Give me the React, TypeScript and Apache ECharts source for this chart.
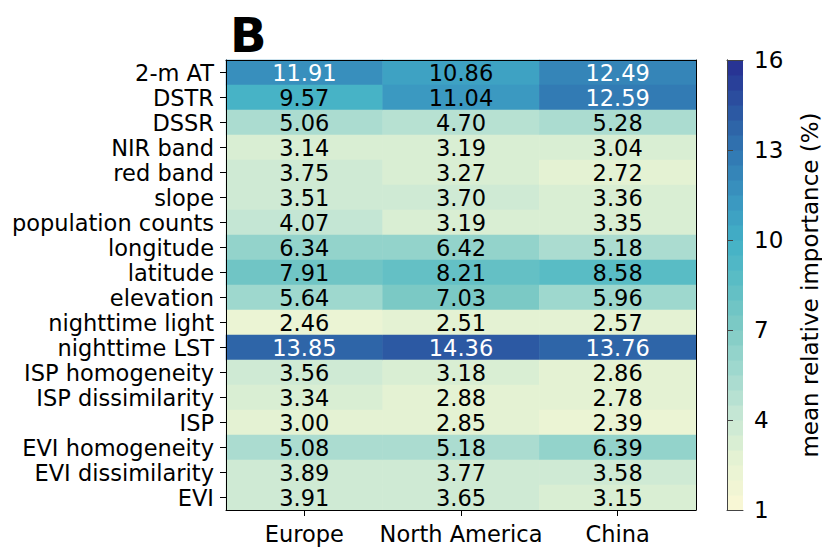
import React, { useEffect, useRef } from 'react';
import * as echarts from 'echarts';

const rowLabels = [
  '2-m AT', 'DSTR', 'DSSR', 'NIR band', 'red band', 'slope', 'population counts',
  'longitude', 'latitude', 'elevation', 'nighttime light', 'nighttime LST',
  'ISP homogeneity', 'ISP dissimilarity', 'ISP', 'EVI homogeneity', 'EVI dissimilarity', 'EVI',
];
const regions = ['Europe', 'North America', 'China'];
const europe = [11.91, 9.57, 5.06, 3.14, 3.75, 3.51, 4.07, 6.34, 7.91, 5.64, 2.46, 13.85, 3.56, 3.34, 3.0, 5.08, 3.89, 3.91];
const northAmerica = [10.86, 11.04, 4.7, 3.19, 3.27, 3.7, 3.19, 6.42, 8.21, 7.03, 2.51, 14.36, 3.18, 2.88, 2.85, 5.18, 3.77, 3.65];
const china = [12.49, 12.59, 5.28, 3.04, 2.72, 3.36, 3.35, 5.18, 8.58, 5.96, 2.57, 13.76, 2.86, 2.78, 2.39, 6.39, 3.58, 3.15];

const colorMin = 1;
const colorMax = 16;
const colorInterval = 3;
const colorLevels = 30;
const paletteStops = [
  '#f8f7d5', '#e5f2d3', '#c6e7d4', '#a2d9cf', '#80cbc5', '#5ebec5',
  '#43b1c6', '#3a96c0', '#3179b3', '#2c58a2', '#283494',
];
const whiteTextAbove = 11.5;
const colorbarTitle = 'mean relative importance (%)';
const panelLetter = 'B';

const FONT = '"DejaVu Sans", sans-serif';

export default function App() {
  const ref = useRef<HTMLDivElement>(null);

  useEffect(() => {
    const chart = echarts.init(ref.current!, null, { renderer: 'svg' });
    const columns = [europe, northAmerica, china];
    const heatData: any[] = [];
    columns.forEach((col, xi) =>
      col.forEach((v, yi) =>
        heatData.push({
          value: [xi, yi, v],
          label: { color: v > whiteTextAbove ? '#ffffff' : '#000000' },
        })
      )
    );
    const step = (colorMax - colorMin) / colorLevels;
    const barData = Array.from({ length: colorLevels }, (_, i) => {
      const lo = colorMin + i * step;
      return [0, lo, lo + step / 2, lo + step];
    });

    const heatGrid = { left: 226, top: 60, width: 470, height: 450 };
    const barGrid = { left: 727, top: 60, width: 30, height: 450 };

    const lineOnly = (color: string) => ({
      axisLine: { show: true, lineStyle: { color, width: 1 } },
      axisTick: { show: false },
      axisLabel: { show: false },
      splitLine: { show: false },
      z: 10,
    });

    chart.setOption({
      animation: false,
      backgroundColor: '#ffffff',
      textStyle: { fontFamily: FONT },
      grid: [
        { ...heatGrid, containLabel: false },
        { ...barGrid, containLabel: false },
      ],
      graphic: [
        {
          type: 'text',
          left: 230,
          top: 11,
          style: { text: panelLetter, font: `bold 48px ${FONT}`, fill: '#000' },
        },
      ],
      xAxis: [
        {
          type: 'category',
          gridIndex: 0,
          data: regions,
          position: 'bottom',
          axisLine: { show: true, lineStyle: { color: '#000', width: 1 } },
          axisTick: { show: true, alignWithLabel: true, length: 6, lineStyle: { color: '#000' } },
          axisLabel: { color: '#000', fontSize: 22.5, fontFamily: FONT, margin: 12, interval: 0 },
          splitLine: { show: false },
          z: 10,
        },
        { type: 'category', gridIndex: 0, data: regions, position: 'top', ...lineOnly('#000') },
        { type: 'value', gridIndex: 1, min: 0, max: 1, position: 'bottom', ...lineOnly('#444') },
        { type: 'value', gridIndex: 1, min: 0, max: 1, position: 'top', ...lineOnly('#444') },
      ],
      yAxis: [
        {
          type: 'category',
          gridIndex: 0,
          data: rowLabels,
          inverse: true,
          position: 'left',
          axisLine: { show: true, lineStyle: { color: '#000', width: 1 } },
          axisTick: { show: true, alignWithLabel: true, length: 6, lineStyle: { color: '#000' } },
          axisLabel: { color: '#000', fontSize: 22.5, fontFamily: FONT, margin: 12, interval: 0 },
          splitLine: { show: false },
          z: 10,
        },
        { type: 'category', gridIndex: 0, data: rowLabels, inverse: true, position: 'right', ...lineOnly('#000') },
        {
          type: 'value',
          gridIndex: 1,
          min: colorMin,
          max: colorMax,
          interval: colorInterval,
          position: 'right',
          axisLine: { show: true, lineStyle: { color: '#444', width: 1 } },
          axisTick: { show: true, length: 6, lineStyle: { color: '#444' } },
          axisLabel: { color: '#000', fontSize: 23, fontFamily: FONT, margin: 11 },
          splitLine: { show: false },
          name: colorbarTitle,
          nameLocation: 'middle',
          nameRotate: 90,
          nameGap: 55,
          nameTextStyle: { color: '#000', fontSize: 23, fontFamily: FONT },
          z: 10,
        },
        { type: 'value', gridIndex: 1, min: colorMin, max: colorMax, position: 'left', ...lineOnly('#444') },
      ],
      visualMap: {
        type: 'piecewise',
        show: false,
        min: colorMin,
        max: colorMax,
        splitNumber: colorLevels,
        dimension: 2,
        seriesIndex: [0, 1],
        inRange: { color: paletteStops },
      },
      series: [
        {
          type: 'heatmap',
          xAxisIndex: 0,
          yAxisIndex: 0,
          data: heatData,
          label: {
            show: true,
            fontSize: 22.5,
            fontFamily: FONT,
            formatter: (p: any) => p.value[2].toFixed(2),
          },
          itemStyle: { borderWidth: 0 },
          emphasis: { disabled: true },
        },
        {
          type: 'custom',
          xAxisIndex: 2,
          yAxisIndex: 2,
          data: barData,
          encode: { x: 0, y: [1, 3] },
          renderItem: (params: any, api: any) => {
            const p0 = api.coord([0, api.value(1)]);
            const p1 = api.coord([1, api.value(3)]);
            return {
              type: 'rect',
              shape: { x: p0[0], y: p1[1], width: p1[0] - p0[0], height: p0[1] - p1[1] + 0.5 },
              style: { fill: api.visual('color') },
            };
          },
        },
      ],
    });

    return () => chart.dispose();
  }, []);

  return (
    <div
      ref={ref}
      style={{ position: 'fixed', left: 0, top: 0, width: 822, height: 548 }}
    />
  );
}
